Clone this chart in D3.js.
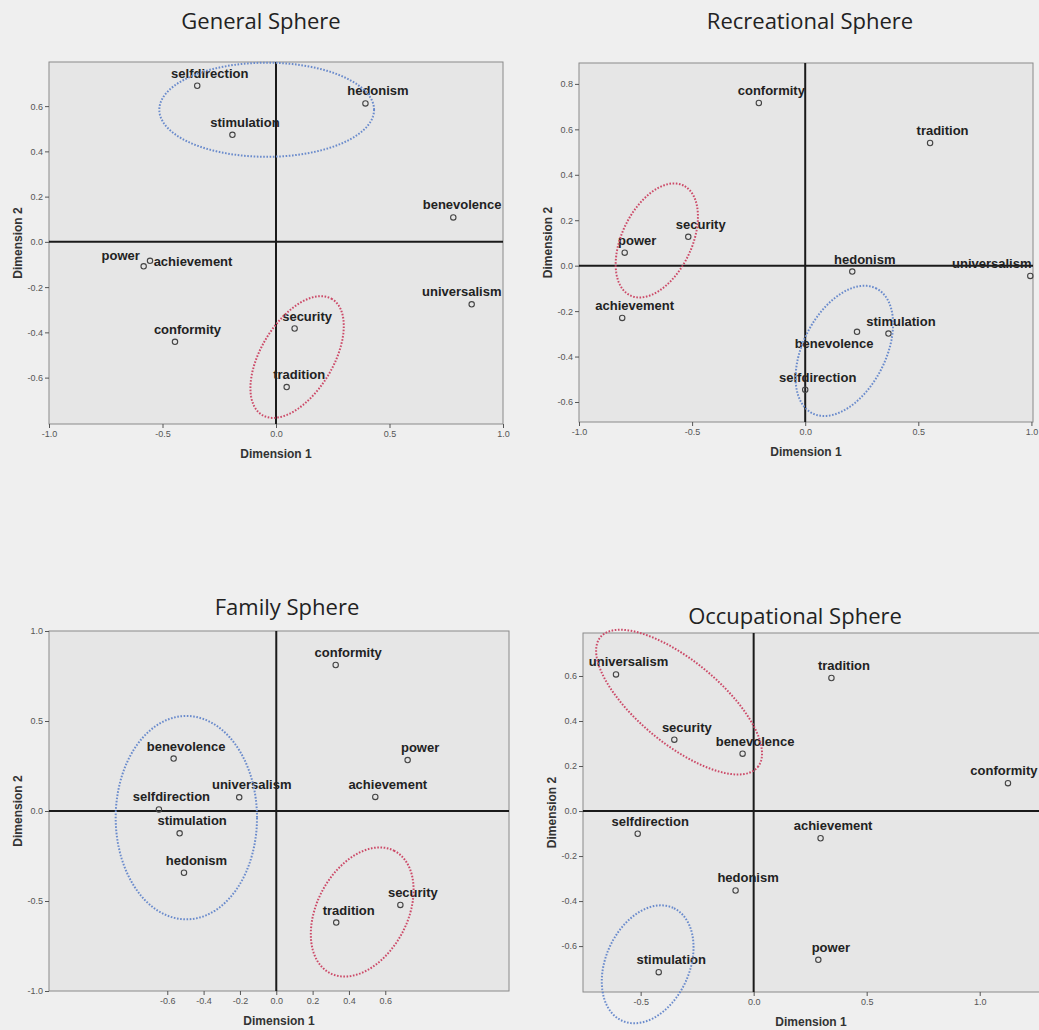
<!DOCTYPE html>
<html>
<head>
<meta charset="utf-8">
<script src="https://cdn.jsdelivr.net/npm/d3@7"></script>
<style>
  html, body { margin: 0; padding: 0; background: #efefef; }
  svg { display: block; }
</style>
</head>
<body>
<svg id="chart" width="1039" height="1030"></svg>
<script>
// Schwartz value types, in a fixed order shared by every sphere
const valueTypes = ["selfdirection", "stimulation", "hedonism", "achievement", "power",
                    "security", "conformity", "tradition", "benevolence", "universalism"];

// MDS coordinates per sphere (same order as valueTypes)
const generalDim1 = [-0.347, -0.192, 0.394, -0.555, -0.583, 0.082, -0.445, 0.047, 0.781, 0.862];
const generalDim2 = [0.690, 0.473, 0.612, -0.084, -0.108, -0.383, -0.442, -0.642, 0.108, -0.276];

const recreationalDim1 = [0.000, 0.368, 0.208, -0.809, -0.798, -0.517, -0.205, 0.552, 0.229, 0.995];
const recreationalDim2 = [-0.546, -0.299, -0.026, -0.230, 0.057, 0.127, 0.716, 0.540, -0.291, -0.045];

const familyDim1 = [-0.646, -0.532, -0.508, 0.545, 0.723, 0.683, 0.327, 0.330, -0.565, -0.204];
const familyDim2 = [0.009, -0.124, -0.343, 0.078, 0.283, -0.522, 0.811, -0.620, 0.291, 0.076];

const occupationalDim1 = [-0.513, -0.420, -0.080, 0.296, 0.286, -0.351, 1.125, 0.344, -0.049, -0.609];
const occupationalDim2 = [-0.101, -0.716, -0.353, -0.121, -0.661, 0.317, 0.124, 0.591, 0.255, 0.607];

// Sphere titles
const sphereTitles = ["General Sphere", "Recreational Sphere", "Family Sphere", "Occupational Sphere"];

// Axis domains and tick values per sphere
const xDomains = [[-1, 1], [-1, 1.007], [-1.251, 1.281], [-0.755, 1.28]];
const yDomains = [[-0.805, 0.795], [-0.688, 0.892], [-1, 1], [-0.804, 0.791]];
const xTicks = [[-1, -0.5, 0, 0.5, 1], [-1, -0.5, 0, 0.5, 1],
                [-0.6, -0.4, -0.2, 0, 0.2, 0.4, 0.6], [-0.5, 0, 0.5, 1]];
const yTicks = [[-0.6, -0.4, -0.2, 0, 0.2, 0.4, 0.6], [-0.6, -0.4, -0.2, 0, 0.2, 0.4, 0.6, 0.8],
                [-1, -0.5, 0, 0.5, 1], [-0.6, -0.4, -0.2, 0, 0.2, 0.4, 0.6]];

// Circled clusters: centre, semi-axes and rotation (degrees) in dimension units
const clusterGroup = ["openness", "conservation"];
const generalClusters = [[-0.041, 0.584, 0.473, 0.208, 0], [0.093, -0.509, 0.299, 0.159, 59]];
const recreationalClusters = [[0.173, -0.375, 0.309, 0.182, 62.5], [-0.656, 0.111, 0.269, 0.154, 64]];
const familyClusters = [[-0.495, -0.037, 0.389, 0.565, 0], [0.473, -0.561, 0.383, 0.249, 62.5]];
const occupationalClusters = [[-0.469, -0.681, 0.275, 0.185, 65.8], [-0.330, 0.484, 0.452, 0.184, -39.7]];

// ---------------------------------------------------------------------------
const svg = d3.select("#chart");
const W = 1039;

const panelBoxes = [
  { left: 49, top: 62, width: 454, height: 362, titleX: 261, titleY: 29 },
  { left: 579, top: 63, width: 454, height: 359, titleX: 810, titleY: 29 },
  { left: 49, top: 631, width: 460, height: 360, titleX: 287, titleY: 615 },
  { left: 583, top: 633, width: 460, height: 359, titleX: 795, titleY: 624 }
];

const dims = [
  [generalDim1, generalDim2, generalClusters],
  [recreationalDim1, recreationalDim2, recreationalClusters],
  [familyDim1, familyDim2, familyClusters],
  [occupationalDim1, occupationalDim2, occupationalClusters]
];

// label placement tweaks where labels would collide
const defaultNudge = [12.5, -8];
const labelNudges = [
  { power: [-23, -6], achievement: [43, 5] },
  { benevolence: [-23, 16] },
  {},
  {}
];

const clusterColor = { openness: "#6a8bcc", conservation: "#cc4a68" };
const fmt = d => d.toFixed(1);

panelBoxes.forEach((box, i) => {
  const [d1, d2, clusters] = dims[i];
  const x = d3.scaleLinear().domain(xDomains[i]).range([box.left, box.left + box.width]);
  const y = d3.scaleLinear().domain(yDomains[i]).range([box.top + box.height, box.top]);
  const g = svg.append("g");

  // title
  g.append("text")
    .attr("x", box.titleX).attr("y", box.titleY)
    .attr("text-anchor", "middle")
    .attr("font-family", "'Open Sans', Lato, sans-serif")
    .attr("font-size", 22)
    .attr("fill", "#222")
    .text(sphereTitles[i]);

  // plot area
  g.append("rect")
    .attr("x", box.left).attr("y", box.top)
    .attr("width", box.width).attr("height", box.height)
    .attr("fill", "#e6e6e6")
    .attr("stroke", "#8a8a8a").attr("stroke-width", 1);

  // axes
  const xAxis = g.append("g")
    .attr("transform", `translate(0,${box.top + box.height})`)
    .call(d3.axisBottom(x).tickValues(xTicks[i]).tickSize(4).tickPadding(3).tickFormat(fmt));
  const yAxis = g.append("g")
    .attr("transform", `translate(${box.left},0)`)
    .call(d3.axisLeft(y).tickValues(yTicks[i]).tickSize(4).tickPadding(2).tickFormat(fmt));
  [xAxis, yAxis].forEach(a => {
    a.select(".domain").remove();
    a.selectAll("line").attr("stroke", "#555");
    a.selectAll("text")
      .attr("font-family", "'Liberation Sans', Arial, sans-serif")
      .attr("font-size", 9).attr("fill", "#555");
  });

  // axis titles
  g.append("text")
    .attr("x", box.left + Math.min(box.width, W - box.left) / 2)
    .attr("y", box.top + box.height + 34)
    .attr("text-anchor", "middle")
    .attr("font-family", "'Liberation Sans', Arial, sans-serif")
    .attr("font-weight", "bold").attr("font-size", 12).attr("fill", "#333")
    .text("Dimension 1");
  g.append("text")
    .attr("transform", `translate(${box.left - 27},${box.top + box.height / 2}) rotate(-90)`)
    .attr("text-anchor", "middle")
    .attr("font-family", "'Liberation Sans', Arial, sans-serif")
    .attr("font-weight", "bold").attr("font-size", 12).attr("fill", "#333")
    .text("Dimension 2");

  // zero reference lines
  g.append("line")
    .attr("x1", x(0)).attr("x2", x(0))
    .attr("y1", box.top).attr("y2", box.top + box.height)
    .attr("stroke", "#1a1a1a").attr("stroke-width", 2);
  g.append("line")
    .attr("x1", box.left).attr("x2", box.left + box.width)
    .attr("y1", y(0)).attr("y2", y(0))
    .attr("stroke", "#1a1a1a").attr("stroke-width", 2);

  // points
  const pts = valueTypes.map((name, k) => ({ name, d1: d1[k], d2: d2[k] }));
  g.selectAll("circle.pt").data(pts).join("circle")
    .attr("class", "pt")
    .attr("cx", d => x(d.d1)).attr("cy", d => y(d.d2))
    .attr("r", 2.7)
    .attr("fill", "none").attr("stroke", "#444").attr("stroke-width", 1.1);

  // labels
  const rightLimit = Math.min(box.left + box.width, W) - 1.5;
  g.selectAll("text.lbl").data(pts).join("text")
    .attr("class", "lbl")
    .attr("text-anchor", "middle")
    .attr("font-family", "'Liberation Sans', Arial, sans-serif")
    .attr("font-weight", "bold").attr("font-size", 13).attr("fill", "#222")
    .text(d => d.name)
    .each(function (d) {
      const n = labelNudges[i][d.name] || defaultNudge;
      const w = this.getComputedTextLength();
      let cx = x(d.d1) + n[0];
      if (cx + w / 2 > rightLimit) cx = rightLimit - w / 2;
      d3.select(this).attr("x", cx).attr("y", y(d.d2) + n[1]);
    });

  // cluster ellipses
  const line = d3.line().curve(d3.curveLinearClosed);
  clusters.forEach((c, k) => {
    const [cx, cy, a, b, deg] = c;
    const t = deg * Math.PI / 180;
    const ring = d3.range(0, 2 * Math.PI, Math.PI / 90).map(s => {
      const u = a * Math.cos(s), v = b * Math.sin(s);
      return [x(cx + u * Math.cos(t) - v * Math.sin(t)), y(cy + u * Math.sin(t) + v * Math.cos(t))];
    });
    g.append("path")
      .attr("d", line(ring))
      .attr("fill", "none")
      .attr("stroke", clusterColor[clusterGroup[k]])
      .attr("stroke-width", 2)
      .attr("stroke-dasharray", "1.6 1.6");
  });
});
</script>
</body>
</html>
